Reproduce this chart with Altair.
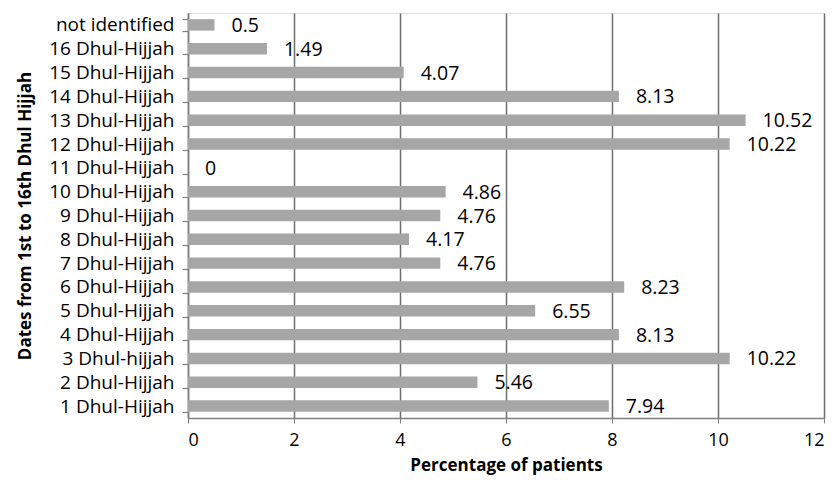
import altair as alt
import pandas as pd

categories = ["not identified", "16 Dhul-Hijjah", "15 Dhul-Hijjah", "14 Dhul-Hijjah",
              "13 Dhul-Hijjah", "12 Dhul-Hijjah", "11 Dhul-Hijjah", "10 Dhul-Hijjah",
              "9 Dhul-Hijjah", "8 Dhul-Hijjah", "7 Dhul-Hijjah", "6 Dhul-Hijjah",
              "5 Dhul-Hijjah", "4 Dhul-Hijjah", "3 Dhul-hijjah", "2 Dhul-Hijjah",
              "1 Dhul-Hijjah"]
values = [0.5, 1.49, 4.07, 8.13, 10.52, 10.22, 0, 4.86, 4.76, 4.17, 4.76, 8.23,
          6.55, 8.13, 10.22, 5.46, 7.94]
labels = ["0.5", "1.49", "4.07", "8.13", "10.52", "10.22", "0", "4.86", "4.76", "4.17",
          "4.76", "8.23", "6.55", "8.13", "10.22", "5.46", "7.94"]
x_ticks = [0, 2, 4, 6, 8, 10, 12]

df = pd.DataFrame({"date": categories, "pct": values, "label": labels})

FONT = "Open Sans"

y_enc = alt.Y("date:N", sort=categories,
              scale=alt.Scale(paddingInner=0.52, paddingOuter=0.26),
              axis=alt.Axis(title="Dates from 1st to 16th Dhul Hijjah",
                            titleFont=FONT, titleFontSize=17, titleFontWeight="bold",
                            titleColor="black", titlePadding=14,
                            labelFont=FONT, labelFontSize=19, labelColor="black",
                            labelPadding=8, tickBand="extent", tickSize=6,
                            tickColor="#808080", domainColor="#808080",
                            domainWidth=1.5, tickWidth=1.2, grid=False))

x_enc = alt.X("pct:Q",
              scale=alt.Scale(domain=[0, 12], nice=False),
              axis=alt.Axis(title="Percentage of patients", values=x_ticks,
                            titleFont=FONT, titleFontSize=17, titleFontWeight="bold",
                            titleColor="black", titlePadding=8,
                            labelFont=FONT, labelFontSize=18, labelColor="black",
                            labelPadding=8, tickSize=5, tickColor="#808080",
                            domainColor="#808080", domainWidth=1.5,
                            grid=True, gridColor="#6e6e6e", gridWidth=1.5))

bars = alt.Chart(df).mark_bar(color="#a6a6a6").encode(x=x_enc, y=y_enc)

text = alt.Chart(df).mark_text(align="left", baseline="middle", dx=17, dy=1,
                               font=FONT, fontSize=19.5, color="black").encode(
    x=alt.X("pct:Q"), y=alt.Y("date:N", sort=categories), text="label:N")

chart = (bars + text).properties(
    width=636, height=405,
    padding={"left": 180, "top": 5, "right": 3, "bottom": 58},
    autosize=alt.AutoSizeParams(type="none"),
).configure_view(stroke=None).configure(background="white")

chart.save("out.html", embed_options={"renderer": "svg", "actions": False})
